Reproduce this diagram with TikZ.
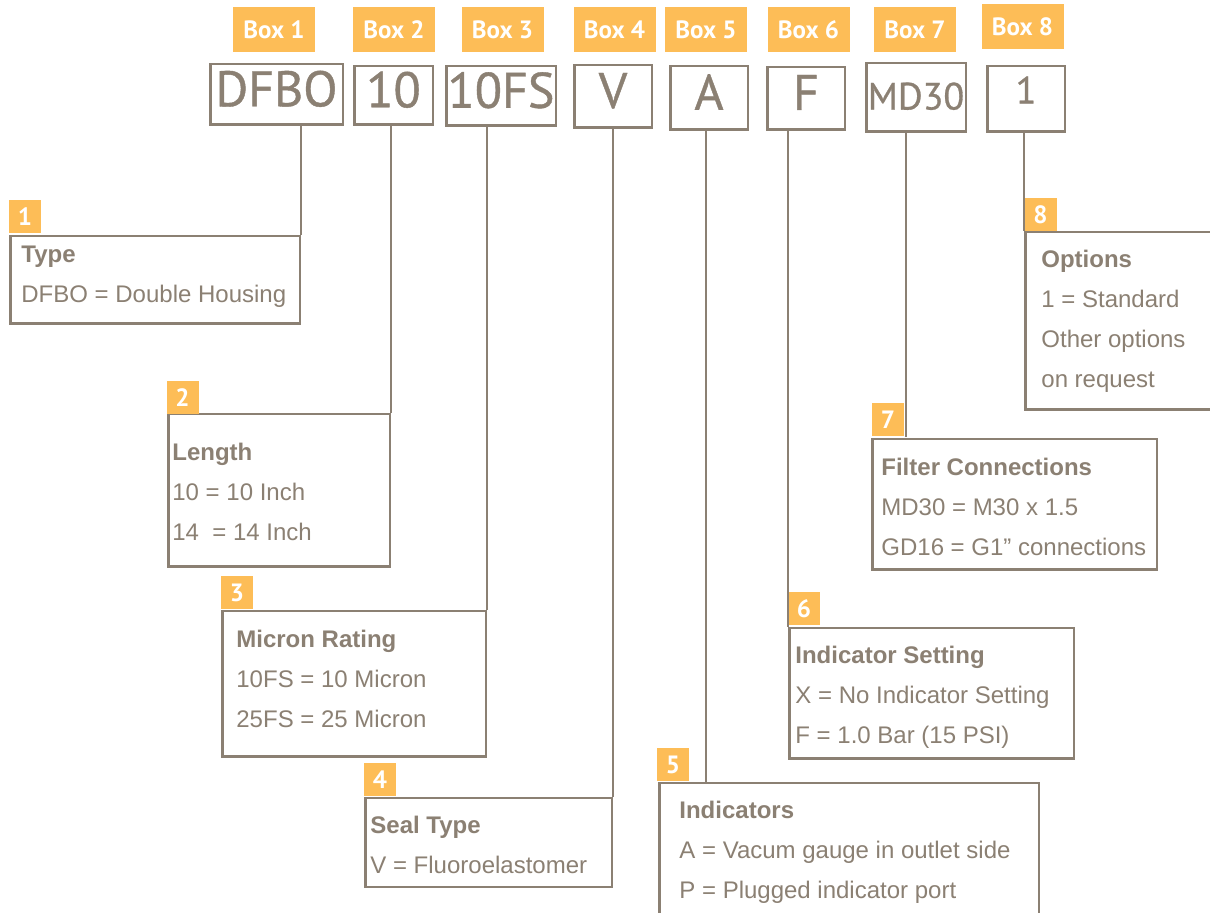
\documentclass[tikz,border=0pt]{standalone}
\usepackage{fontspec}
\setmainfont{Liberation Sans}
\newfontfamily\codefont[FakeBold=0.8]{PT Sans}
\newfontfamily\labelfont{PT Sans}
\usetikzlibrary{positioning}
\definecolor{taupe}{RGB}{139,128,115}
\definecolor{amber}{RGB}{253,189,87}

\begin{document}
\begin{tikzpicture}
[x=0.5pt, y=-0.5pt, font=\fontsize{12}{20}\selectfont, text=taupe]
\tikzstyle{boxlabel}=[fill=amber, text=white, font=\labelfont\bfseries\fontsize{12.5}{14}\selectfont, minimum width=41pt, minimum height=22.5pt, inner sep=0pt]
\tikzstyle{codebox}=[draw=taupe, line width=1.3pt, font=\codefont\fontsize{25}{28}\selectfont, inner sep=0pt, text depth=6pt]
\tikzstyle{tag}=[fill=amber, text=white, font=\labelfont\bfseries\fontsize{12.5}{14}\selectfont, minimum width=16pt, minimum height=16.5pt, inner sep=0pt]
\tikzstyle{descbox}=[draw=taupe, line width=1.3pt, fill=white, inner sep=0pt]
\tikzstyle{desctext}=[anchor=north west, align=left, inner sep=0pt]
\tikzstyle{link}=[draw=taupe, line width=1pt]

\useasboundingbox (0,0) rectangle (1210,913);
\clip (0,0) rectangle (1210,913);

% top row
\node[boxlabel]	(L1)	at (274,29.5)		{Box 1};
\node[boxlabel]	(L2)	at (394,29.5)		{Box 2};
\node[boxlabel]	(L3)	at (502.5,29.5)	{Box 3};
\node[boxlabel]	(L4)	at (614.5,29.5)	{Box 4};
\node[boxlabel]	(L5)	at (706,29.5)		{Box 5};
\node[boxlabel]	(L6)	at (808.5,29.5)	{Box 6};
\node[boxlabel]	(L7)	at (915,29.5)		{Box 7};
\node[boxlabel]	(L8)	at (1022.5,26.5)	{Box 8};

\node[codebox, minimum width=66.3pt, minimum height=30.3pt]	(C1)	at (276.5,94.5)	{DFBO};
\node[codebox, minimum width=39.3pt, minimum height=29.3pt]	(C2)	at (393.5,95.5)	{10};
\node[codebox, minimum width=54.8pt, minimum height=29.8pt]	(C3)	at (501,96)		{10FS};
\node[codebox, minimum width=38.8pt, minimum height=31.3pt]	(C4)	at (613,96.5)		{V};
\node[codebox, minimum width=38.8pt, minimum height=31.8pt]	(C5)	at (709,98)		{A};
\node[codebox, minimum width=38.8pt, minimum height=31.3pt]	(C6)	at (806,98.5)		{F};
\node[codebox, minimum width=49.8pt, minimum height=34.3pt, font=\codefont\fontsize{19}{22}\selectfont, text depth=1.5pt]	(C7)	at (916,97.5)	{MD30};
\node[codebox, minimum width=38.8pt, minimum height=32.8pt, font=\codefont\fontsize{19}{22}\selectfont, text depth=9pt]	(C8)	at (1026,99)	{1};

% description boxes
\node[descbox, minimum width=144.8pt, minimum height=43.8pt]	(D1)	at (155,280)		{};
\node[descbox, minimum width=110.8pt, minimum height=76.3pt]	(D2)	at (279,490.5)	{};
\node[descbox, minimum width=131.8pt, minimum height=72.8pt]	(D3)	at (354,684)		{};
\node[descbox, minimum width=123.3pt, minimum height=44.3pt]	(D4)	at (488.5,842.5)	{};
\node[descbox, minimum width=189.8pt, minimum height=77.8pt]	(D5)	at (849,861)		{};
\node[descbox, minimum width=142.3pt, minimum height=65.3pt]	(D6)	at (931.5,693.5)	{};
\node[descbox, minimum width=142.3pt, minimum height=65.3pt]	(D7)	at (1014.5,504.5)	{};
\node[descbox, minimum width=106.8pt, minimum height=88.8pt]	(D8)	at (1132,321)		{};

\node[tag]	(T1)	at (25,216.5)		{1};
\node[tag]	(T2)	at (182.5,397.5)	{2};
\node[tag]	(T3)	at (237,593)		{3};
\node[tag]	(T4)	at (380,780)		{4};
\node[tag]	(T5)	at (673,764.5)	{5};
\node[tag]	(T6)	at (804,609)		{6};
\node[tag]	(T7)	at (888,420)		{7};
\node[tag]	(T8)	at (1040.5,214.5)	{8};

\node[desctext]	(X1)	at (21,246)	{\textbf{Type}\\DFBO = Double Housing};
\node[desctext]	(X2)	at (172,443)	{\textbf{Length}\\10 = 10 Inch\\14\ \ = 14 Inch};
\node[desctext]	(X3)	at (236,630)	{\textbf{Micron Rating}\\10FS = 10 Micron\\25FS = 25 Micron};
\node[desctext]	(X4)	at (370,816)	{\textbf{Seal Type}\\V = Fluoroelastomer};
\node[desctext]	(X5)	at (679,801)	{\textbf{Indicators}\\A = Vacum gauge in outlet side\\P = Plugged indicator port};
\node[desctext]	(X6)	at (795,646)	{\textbf{Indicator Setting}\\X = No Indicator Setting\\F = 1.0 Bar (15 PSI)};
\node[desctext]	(X7)	at (881,458)	{\textbf{Filter Connections}\\MD30 = M30 x 1.5\\GD16 = G1” connections};
\node[desctext]	(X8)	at (1041,250)	{\textbf{Options}\\1 = Standard\\Other options\\on request};

\draw [link] (C1.south -| D1.east)--(D1.north east);
\draw [link] (C2.south -| D2.east)--(D2.north east);
\draw [link] (C3.south -| D3.east)--(D3.north east);
\draw [link] (C4.south -| D4.east)--(D4.north east);
\draw [link] ([xshift=-1.5pt]C5.south)--([xshift=-1.5pt]C5.south |- D5.north);
\draw [link] (C6.south -| D6.west)--(D6.north west);
\draw [link] ([xshift=1pt]C7.south -| T7.east)--([xshift=1pt]T7.south east);
\draw [link] (C8.south -| D8.west)--(D8.north west);
\end{tikzpicture}
\end{document}
